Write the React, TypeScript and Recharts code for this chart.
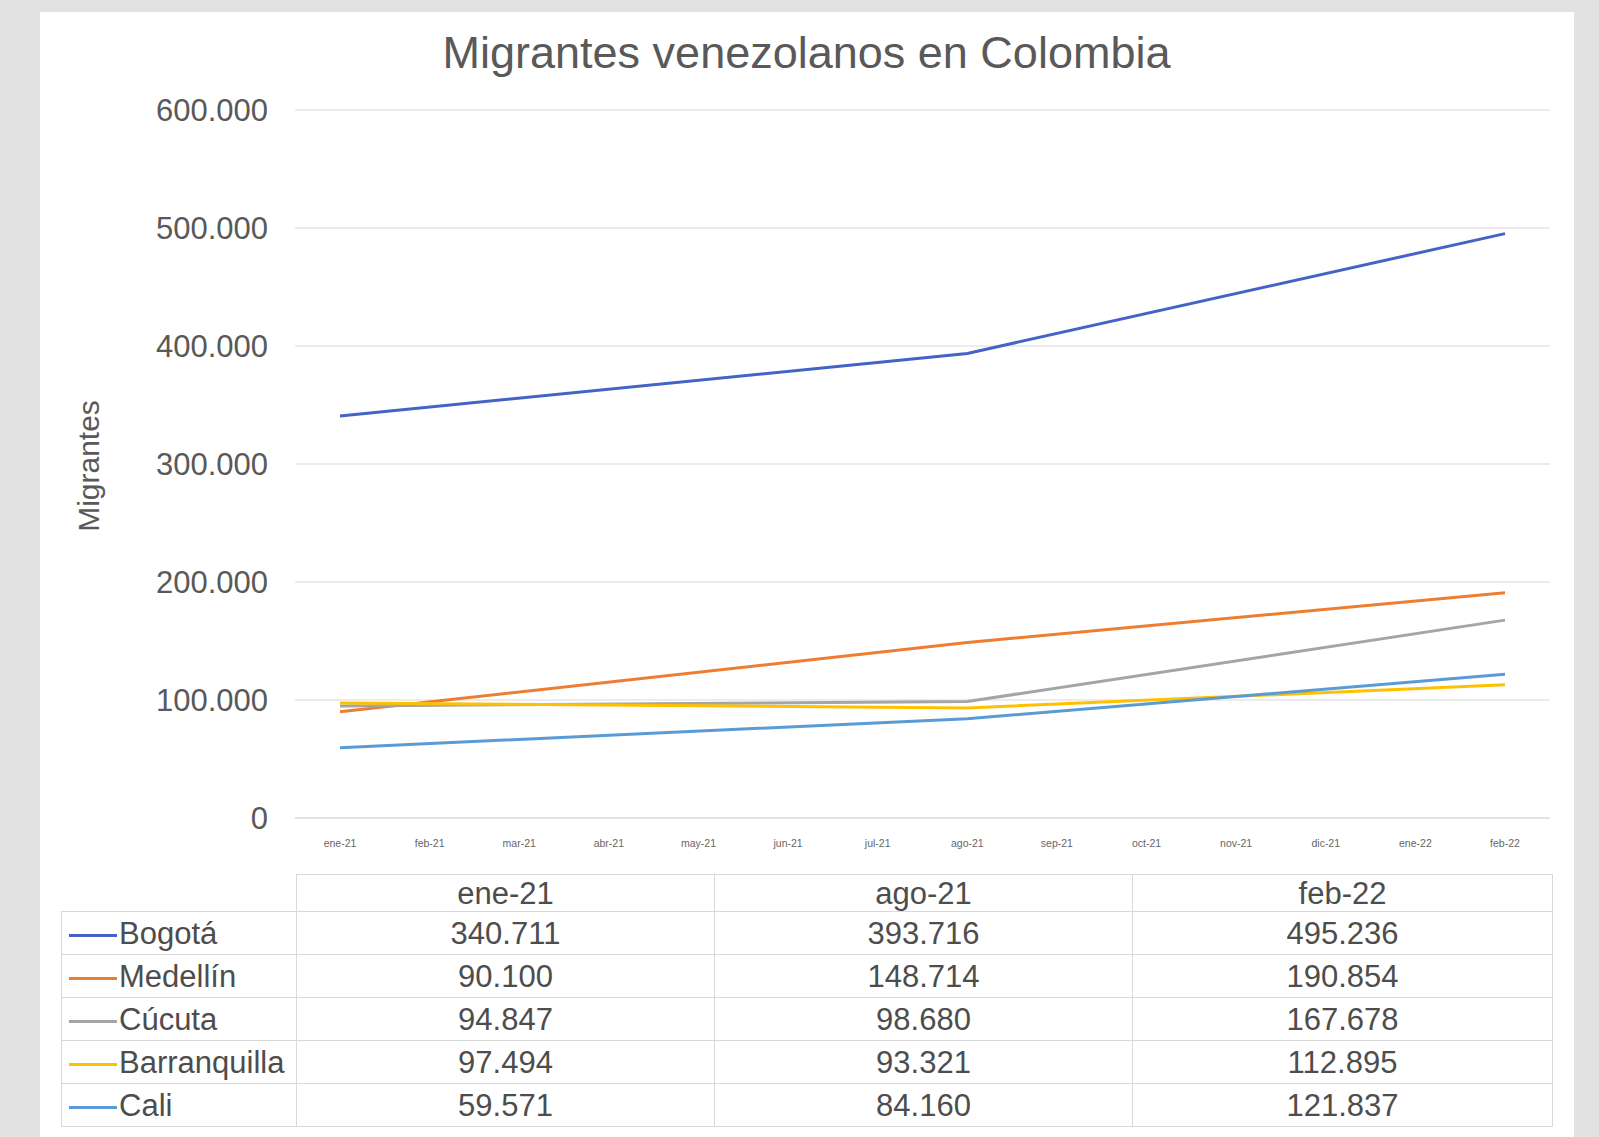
import React from 'react';
import { LineChart, Line, XAxis, YAxis, CartesianGrid } from 'recharts';

// Eje X del gráfico (meses) y columnas de la tabla de datos
const MONTHS = [
  'ene-21', 'feb-21', 'mar-21', 'abr-21', 'may-21', 'jun-21', 'jul-21',
  'ago-21', 'sep-21', 'oct-21', 'nov-21', 'dic-21', 'ene-22', 'feb-22',
];
const TABLE_MONTHS = ['ene-21', 'ago-21', 'feb-22'];

const BOGOTA = [340711, 393716, 495236];
const MEDELLIN = [90100, 148714, 190854];
const CUCUTA = [94847, 98680, 167678];
const BARRANQUILLA = [97494, 93321, 112895];
const CALI = [59571, 84160, 121837];

const Y_TICKS = [0, 100000, 200000, 300000, 400000, 500000, 600000];

const SERIES = [
  { key: 'Bogotá', values: BOGOTA, color: '#4463c6' },
  { key: 'Medellín', values: MEDELLIN, color: '#ed7d31' },
  { key: 'Cúcuta', values: CUCUTA, color: '#a5a5a5' },
  { key: 'Barranquilla', values: BARRANQUILLA, color: '#ffc000' },
  { key: 'Cali', values: CALI, color: '#5b9bd5' },
];

// only the three table months carry values; connectNulls joins them like Excel does
const DATA = MONTHS.map((m) => {
  const row: Record<string, any> = { month: m };
  const idx = TABLE_MONTHS.indexOf(m);
  SERIES.forEach((s) => {
    row[s.key] = idx >= 0 ? s.values[idx] : null;
  });
  return row;
});

const fmt = (v: number) => String(v).replace(/\B(?=(\d{3})+(?!\d))/g, '.');

const FONT = '"Liberation Sans", Arial, sans-serif';
const GRID = '#d9d9d9';

const cell: React.CSSProperties = {
  border: `1px solid ${GRID}`,
  padding: 0,
  textAlign: 'center',
  fontSize: 31,
  color: '#4d4d4d',
  lineHeight: 1,
};

export default function App() {
  return (
    <div
      style={{
        position: 'absolute', left: 0, top: 0, width: 1599, height: 1137,
        background: '#e2e2e2', fontFamily: FONT, overflow: 'hidden',
      }}
    >
      <div style={{ position: 'absolute', left: 40, top: 12, width: 1534, height: 1125, background: '#fff' }} />

      <div
        style={{
          position: 'absolute', left: 0, width: 1613, top: 28, textAlign: 'center',
          fontSize: 45, color: '#595959', lineHeight: '50px',
        }}
      >
        Migrantes venezolanos en Colombia
      </div>

      <div
        style={{
          position: 'absolute', left: 89, top: 466, fontSize: 30, color: '#595959',
          transform: 'translate(-50%, -50%) rotate(-90deg)', whiteSpace: 'nowrap',
        }}
      >
        Migrantes
      </div>

      <div style={{ position: 'absolute', left: 0, top: 0 }}>
        <LineChart width={1599} height={870} data={DATA} margin={{ top: 110, right: 49, bottom: 0, left: 0 }}>
          <CartesianGrid vertical={false} stroke={GRID} />
          <XAxis
            dataKey="month"
            height={52}
            tickSize={0}
            tickMargin={22}
            interval={0}
            padding={{ left: 45, right: 45 }}
            axisLine={{ stroke: GRID }}
            tick={{ fontSize: 10.5, fill: '#666', fontFamily: FONT }}
          />
          <YAxis
            width={295}
            domain={[0, 600000]}
            ticks={Y_TICKS}
            tickFormatter={fmt}
            tickSize={0}
            tickMargin={27}
            axisLine={false}
            tick={{ fontSize: 31, fill: '#595959', fontFamily: FONT }}
          />
          {SERIES.map((s) => (
            <Line
              key={s.key}
              dataKey={s.key}
              stroke={s.color}
              strokeWidth={3}
              dot={false}
              connectNulls
              isAnimationActive={false}
            />
          ))}
        </LineChart>
      </div>

      <table
        style={{
          position: 'absolute', left: 61, top: 874, borderCollapse: 'collapse',
          tableLayout: 'fixed', fontFamily: FONT,
        }}
      >
        <colgroup>
          <col style={{ width: 235 }} />
          <col style={{ width: 418 }} />
          <col style={{ width: 418 }} />
          <col style={{ width: 420 }} />
        </colgroup>
        <tbody>
          <tr style={{ height: 37 }}>
            <td style={{ ...cell, border: 'none' }} />
            {TABLE_MONTHS.map((m) => (
              <td key={m} style={cell}>{m}</td>
            ))}
          </tr>
          {SERIES.map((s) => (
            <tr key={s.key} style={{ height: 43 }}>
              <td style={{ ...cell, textAlign: 'left', whiteSpace: 'nowrap' }}>
                <span
                  style={{
                    display: 'inline-block', width: 48, height: 3, background: s.color,
                    verticalAlign: 'middle', marginLeft: 7, marginRight: 2,
                  }}
                />
                {s.key}
              </td>
              {s.values.map((v, i) => (
                <td key={i} style={cell}>{fmt(v)}</td>
              ))}
            </tr>
          ))}
        </tbody>
      </table>
    </div>
  );
}
